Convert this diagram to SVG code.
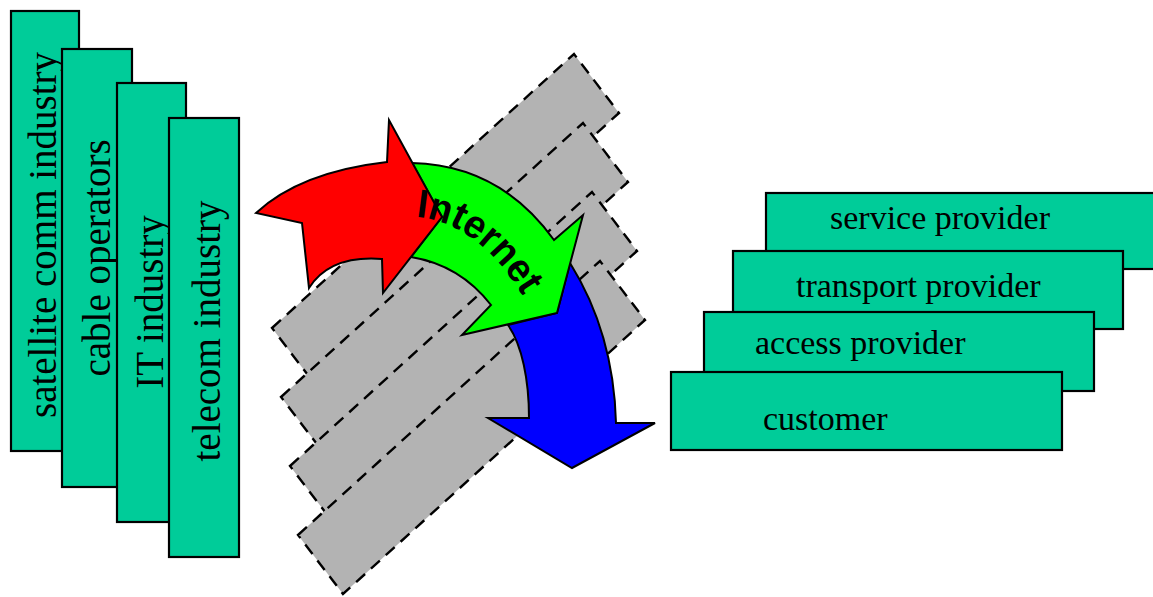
<svg xmlns="http://www.w3.org/2000/svg" width="1153" height="597" viewBox="0 0 1153 597">
<style>
.box{fill:#00CC99;stroke:#000;stroke-width:2.2}
.lbl{font-family:"Liberation Serif","Times New Roman",serif;fill:#000}
.vl{font-size:39px;text-anchor:middle}
.hl{font-size:34px}
.strip{fill:#B3B3B3;stroke:#000;stroke-width:2.4;stroke-dasharray:12 8}
.arr{stroke:#000;stroke-width:2;stroke-linejoin:miter}
.net{font-family:"Liberation Sans",Arial,sans-serif;font-weight:bold;font-size:40px;fill:#000}
</style>
<rect width="1153" height="597" fill="#fff"/>
<g id="industries">
<g id="satellite"><rect class="box" x="11" y="11" width="68" height="440"/><text class="lbl vl" transform="translate(56,235) rotate(-90)">satellite comm industry</text></g>
<g id="cable"><rect class="box" x="62" y="49" width="70" height="438"/><text class="lbl vl" transform="translate(110,258) rotate(-90)">cable operators</text></g>
<g id="it"><rect class="box" x="117" y="83" width="69" height="439"/><text class="lbl vl" transform="translate(163,302) rotate(-90)">IT industry</text></g>
<g id="telecom"><rect class="box" x="169" y="118" width="70" height="439"/><text class="lbl vl" transform="translate(220,331) rotate(-90)">telecom industry</text></g>
</g>
<g id="strips">
<polygon class="strip" points="272,328 574,54 619,113 317,387"/>
<polygon class="strip" points="281,397 583,123 628,182 326,456"/>
<polygon class="strip" points="290,466 592,192 637,251 335,525"/>
<polygon class="strip" points="298,535 600,261 645,320 343,594"/>
</g>
<g id="arrows">
<path id="blue" class="arr" fill="#0000FF" d="M570,263 C590,295 614,345 616,423 L655,423 L572,468 L488,418 L529,418 C529,380 522,345 508,325 L557,313 Z"/>
<path id="green" class="arr" fill="#00FF00" d="M412,163 Q500,165 554,240 L583,215 L557,313 L462,335 L491,305 Q460,265 411,257 L442,217 Z"/>
<path id="red" class="arr" fill="#FF0000" d="M256,213 Q300,172 387,162 L389,120 L442,217 L383,293 L382,259 Q330,255 309,288 L302,223 Z"/>
<path id="netpath" d="M416,217 Q478,222 524,298" fill="none"/>
<text class="net"><textPath href="#netpath" textLength="138" lengthAdjust="spacingAndGlyphs">Internet</textPath></text>
</g>
<g id="roles">
<g id="service"><rect class="box" x="766" y="193" width="400" height="76"/><text class="lbl hl" x="830" y="229">service provider</text></g>
<g id="transport"><rect class="box" x="733" y="251" width="390" height="78"/><text class="lbl hl" x="796" y="297">transport provider</text></g>
<g id="access"><rect class="box" x="704" y="312" width="390" height="79"/><text class="lbl hl" x="755" y="354">access provider</text></g>
<g id="customer"><rect class="box" x="671" y="372" width="391" height="78"/><text class="lbl hl" x="763" y="430">customer</text></g>
</g>
</svg>
